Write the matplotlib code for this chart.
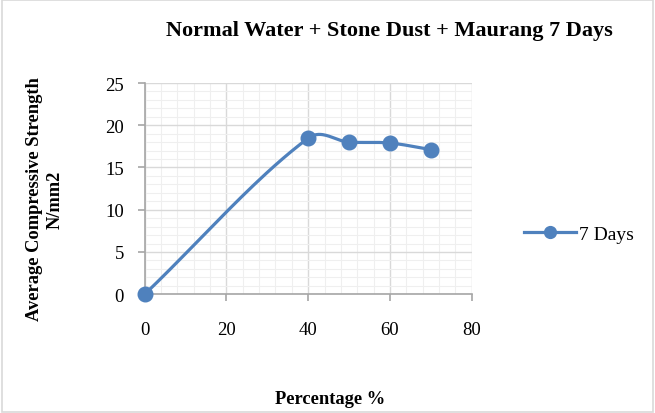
import numpy as np
import matplotlib

matplotlib.use("Agg")
import matplotlib.pyplot as plt  # noqa: E402
from matplotlib.ticker import MultipleLocator  # noqa: E402

plt.rcParams["font.family"] = ["Liberation Serif", "DejaVu Serif"]

percent = [0, 40, 50, 60, 70]
strength = [0, 18.47, 18.0, 17.9, 17.12]
series_name = "7 Days"
title = "Normal Water + Stone Dust + Maurang 7 Days"
LINE = "#4f81bd"
AXIS = "#a6a6a6"


def smooth(xs, ys, n=40):
    # smoothed line like Excel: cubic Hermite with finite-difference slopes
    xs = np.asarray(xs, float)
    ys = np.asarray(ys, float)
    m = np.empty_like(ys)
    m[0] = (ys[1] - ys[0]) / (xs[1] - xs[0])
    m[-1] = (ys[-1] - ys[-2]) / (xs[-1] - xs[-2])
    m[1:-1] = (ys[2:] - ys[:-2]) / (xs[2:] - xs[:-2])
    t = np.linspace(0, 1, n)
    h00 = 2 * t ** 3 - 3 * t ** 2 + 1
    h10 = t ** 3 - 2 * t ** 2 + t
    h01 = -2 * t ** 3 + 3 * t ** 2
    h11 = t ** 3 - t ** 2
    out_x, out_y = [], []
    for i in range(len(xs) - 1):
        dx = xs[i + 1] - xs[i]
        out_x.extend(xs[i] + t * dx)
        out_y.extend(h00 * ys[i] + h10 * dx * m[i] + h01 * ys[i + 1] + h11 * dx * m[i + 1])
    return out_x, out_y


fig = plt.figure(figsize=(6.55, 4.14), dpi=100)
fig.patches.append(plt.Rectangle((0.003, 0.003), 0.994, 0.994, transform=fig.transFigure,
                                 fill=False, edgecolor="#d9d9d9", lw=1.2))
ax = fig.add_axes([0.221, 0.287, 0.499, 0.51])

sx, sy = smooth(percent, strength)
ax.plot(sx, sy, color=LINE, lw=2.3, zorder=3, clip_on=False)
ax.plot(percent, strength, "o", color=LINE, ms=10.5, zorder=4, clip_on=False)
ax.plot([], [], "-o", color=LINE, lw=2.3, ms=8.5, label=series_name)

ax.set_xlim(0, 80)
ax.set_ylim(0, 25)
ax.xaxis.set_major_locator(MultipleLocator(20))
ax.xaxis.set_minor_locator(MultipleLocator(4))
ax.yaxis.set_major_locator(MultipleLocator(5))
ax.yaxis.set_minor_locator(MultipleLocator(1))
ax.grid(which="major", color="#d9d9d9", lw=1.0)
ax.grid(which="minor", color="#efefef", lw=0.8)
ax.set_axisbelow(True)
for s in ["top", "right"]:
    ax.spines[s].set_visible(False)
for s in ["left", "bottom"]:
    ax.spines[s].set_color(AXIS)
    ax.spines[s].set_linewidth(1.2)
ax.tick_params(which="major", direction="out", length=5, width=1.2, color=AXIS, labelsize=13.5)
ax.tick_params(which="minor", length=0)
ax.tick_params(axis="y", pad=10)
ax.tick_params(axis="x", pad=14)

fig.text(0.595, 0.924, title, ha="center", va="center", fontsize=16, fontweight="bold")
fig.text(0.068, 0.518, "Average Compressive Strength\nN/mm2", ha="center", va="center",
         rotation=90, fontsize=13.3, fontweight="bold", linespacing=1.3)
fig.text(0.504, 0.034, "Percentage %", ha="center", va="center", fontsize=13.3, fontweight="bold")
fig.legend(loc="center left", bbox_to_anchor=(0.773, 0.432), frameon=False, fontsize=14,
           handlelength=2.7, handletextpad=0.15)

fig.savefig("out.png", dpi=100)
